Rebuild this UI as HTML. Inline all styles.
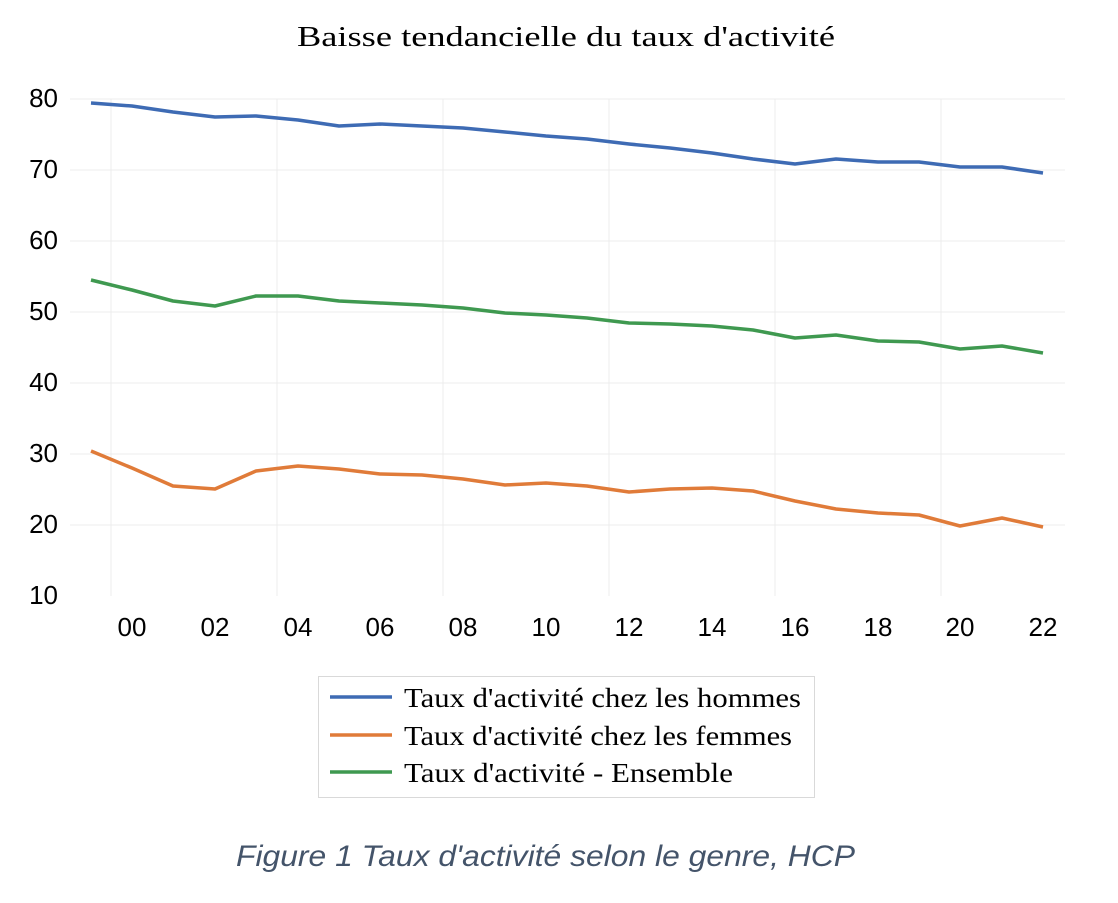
<!DOCTYPE html>
<html><head><meta charset="utf-8"><style>
body{margin:0;background:#fff;width:1118px;height:898px;overflow:hidden}
</style></head><body>
<svg width="1118" height="898" xmlns="http://www.w3.org/2000/svg">
<text x="297" y="46" textLength="538" lengthAdjust="spacingAndGlyphs" font-family="Liberation Serif, serif" font-size="29" fill="#000">Baisse tendancielle du taux d'activité</text>
<g stroke="#ececec" stroke-width="1">
<line x1="70" x2="1065" y1="99" y2="99"/><line x1="70" x2="1065" y1="170" y2="170"/><line x1="70" x2="1065" y1="241" y2="241"/><line x1="70" x2="1065" y1="312" y2="312"/><line x1="70" x2="1065" y1="383" y2="383"/><line x1="70" x2="1065" y1="454" y2="454"/><line x1="70" x2="1065" y1="525" y2="525"/>
<line x1="111" x2="111" y1="99" y2="596"/><line x1="277" x2="277" y1="99" y2="596"/><line x1="443" x2="443" y1="99" y2="596"/><line x1="609" x2="609" y1="99" y2="596"/><line x1="775" x2="775" y1="99" y2="596"/><line x1="941" x2="941" y1="99" y2="596"/>
</g>
<g font-family="Liberation Sans, sans-serif" font-size="26" fill="#000" text-anchor="end">
<text x="58" y="107">80</text><text x="58" y="178">70</text><text x="58" y="249">60</text><text x="58" y="320">50</text><text x="58" y="391">40</text><text x="58" y="462">30</text><text x="58" y="533">20</text><text x="58" y="604">10</text>
</g>
<g font-family="Liberation Sans, sans-serif" font-size="26" fill="#000" text-anchor="middle">
<text x="132" y="636">00</text><text x="215" y="636">02</text><text x="298" y="636">04</text><text x="380" y="636">06</text><text x="463" y="636">08</text><text x="546" y="636">10</text><text x="629" y="636">12</text><text x="712" y="636">14</text><text x="795" y="636">16</text><text x="878" y="636">18</text><text x="960" y="636">20</text><text x="1043" y="636">22</text>
</g>
<g fill="none" stroke-width="3.5" stroke-linejoin="round">
<polyline stroke="#3e6bb4" points="91,103 132,106 173,112 215,117 256,116 298,120 339,126 380,124 422,126 463,128 505,132 546,136 587,139 629,144 670,148 712,153 753,159 795,164 836,159 878,162 919,162 960,167 1002,167 1043,173"/>
<polyline stroke="#e07b39" points="91,451 132,468 173,486 215,489 256,471 298,466 339,469 380,474 422,475 463,479 505,485 546,483 587,486 629,492 670,489 712,488 753,491 795,501 836,509 878,513 919,515 960,526 1002,518 1043,527"/>
<polyline stroke="#3f9950" points="91,280 132,290 173,301 215,306 256,296 298,296 339,301 380,303 422,305 463,308 505,313 546,315 587,318 629,323 670,324 712,326 753,330 795,338 836,335 878,341 919,342 960,349 1002,346 1043,353"/>
</g>
<rect x="318.5" y="676.5" width="496" height="121" fill="#fff" stroke="#d9d9d9"/>
<g stroke-width="3.5"><line x1="330" x2="392" y1="697" y2="697" stroke="#3e6bb4"/><line x1="330" x2="392" y1="735" y2="735" stroke="#e07b39"/><line x1="330" x2="392" y1="772" y2="772" stroke="#3f9950"/></g>
<g font-family="Liberation Serif, serif" font-size="27" fill="#000" lengthAdjust="spacingAndGlyphs">
<text x="404" y="707" textLength="397" lengthAdjust="spacingAndGlyphs">Taux d'activité chez les hommes</text><text x="404" y="745" textLength="388" lengthAdjust="spacingAndGlyphs">Taux d'activité chez les femmes</text><text x="404" y="782" textLength="329" lengthAdjust="spacingAndGlyphs">Taux d'activité - Ensemble</text>
</g>
<text x="236" y="866" textLength="619" lengthAdjust="spacingAndGlyphs" font-family="Liberation Sans, sans-serif" font-style="italic" font-size="30" fill="#44546a">Figure 1 Taux d'activité selon le genre, HCP</text>
</svg>
</body></html>
